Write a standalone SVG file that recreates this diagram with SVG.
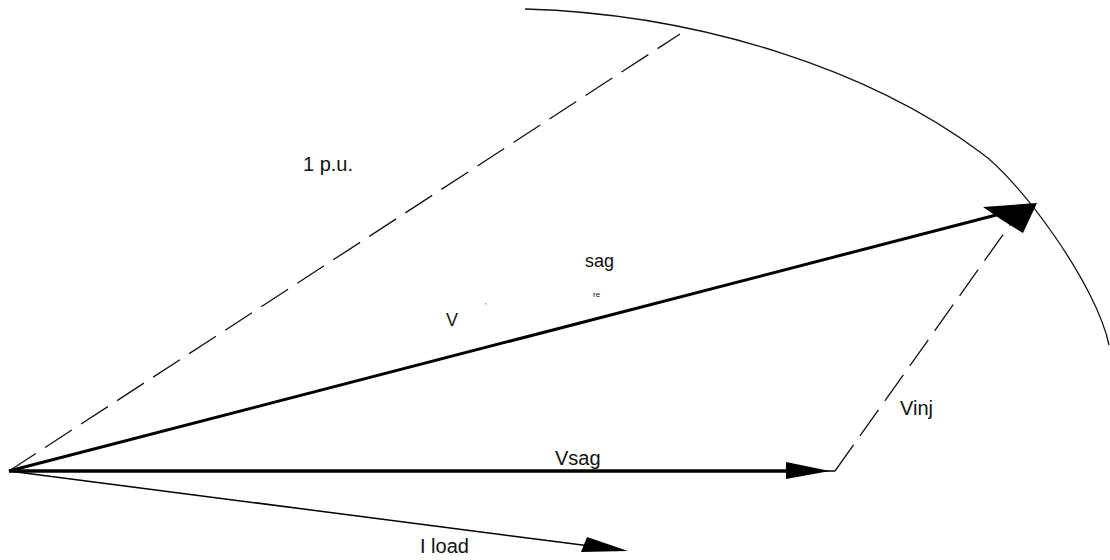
<svg xmlns="http://www.w3.org/2000/svg" width="1110" height="560" viewBox="0 0 1110 560">
<style>
.lbl{font-family:"Liberation Sans",Arial,sans-serif;fill:#111;}
.vec{stroke:#000;fill:none;}
.dash{stroke:#111;fill:none;stroke-width:1.3;stroke-dasharray:32 11;}
.head{fill:#000;stroke:none;}
</style>
<rect width="1110" height="560" fill="#fff"/>
<g id="arc">
<path d="M525,9 C700,14 870,70 980,152 C1021,181 1097,286 1109,345" fill="none" stroke="#111" stroke-width="1.3"/>
</g>
<g id="connectors">
<line id="pu" class="dash" x1="9" y1="471" x2="680" y2="34"/>
<line id="vinj" class="dash" x1="835" y1="471" x2="1012" y2="222"/>
<line id="vre" class="vec" stroke-width="3" x1="9" y1="471" x2="1000" y2="214"/>
<polygon class="head" points="983,207 1037,203 1023,233 1002,220"/>
<line id="vsag" class="vec" stroke-width="3.5" x1="9" y1="471" x2="790" y2="471"/>
<line class="vec" stroke-width="1.5" x1="790" y1="471" x2="835" y2="471"/>
<polygon class="head" points="786,462 830,471 786,479"/>
<line id="iload" class="vec" stroke-width="1.5" x1="9" y1="471" x2="590" y2="546"/>
<polygon class="head" points="587,537 628,551 581,552"/>
</g>
<g id="labels">
<text class="lbl" x="303" y="171" font-size="20">1 p.u.</text>
<text class="lbl" x="585" y="267" font-size="18">sag</text>
<text class="lbl" x="593" y="297" font-size="8">re</text>
<text class="lbl" x="446" y="326" font-size="18">V</text>
<text class="lbl" x="485" y="308" font-size="7">'</text>
<text class="lbl" x="555" y="465" font-size="20">Vsag</text>
<text class="lbl" x="900" y="415" font-size="20">Vinj</text>
<text class="lbl" x="420" y="553" font-size="20">I load</text>
</g>
</svg>
